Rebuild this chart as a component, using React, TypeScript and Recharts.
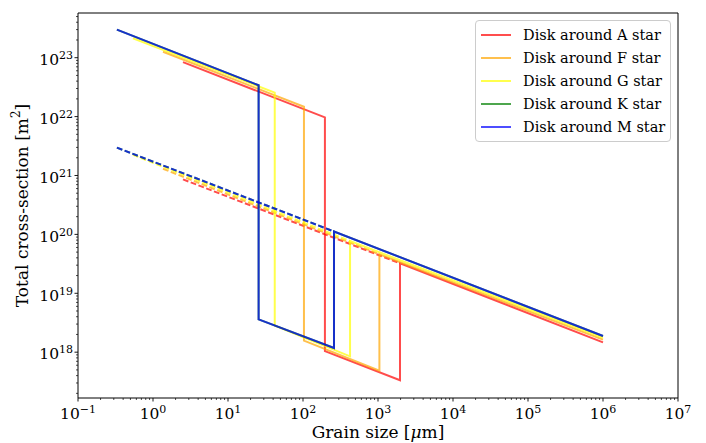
import React from 'react';
import { LineChart, Line, XAxis, YAxis, ReferenceArea, Legend } from 'recharts';

type Pt = [number, number];

// grain size [um], cross-section [m^2]
const solidA: Pt[] = [[2.51, 8.4e22], [196, 9.7e21], [196, 1.04e18], [1965, 3.33e17], [1965, 3.23e19], [1e6, 1.47e18]];
const dashedA: Pt[] = [[2.51, 8.6e20], [1965, 3.23e19]];
const solidF: Pt[] = [[1.36, 1.26e23], [103, 1.47e22], [103, 1.57e18], [1044, 4.85e17], [1044, 4.6e19], [1e6, 1.63e18]];
const dashedF: Pt[] = [[1.36, 1.3e21], [1044, 4.6e19]];
const solidG: Pt[] = [[0.54, 2.14e23], [42, 2.55e22], [42, 2.83e18], [424, 8.5e17], [424, 7.7e19], [1e6, 1.76e18]];
const dashedG: Pt[] = [[0.54, 2.25e21], [424, 7.7e19]];
const solidK: Pt[] = [[0.33, 3.0e23], [25.6, 3.4e22], [25.6, 3.6e18], [259, 1.18e18], [259, 1.12e20], [1e6, 1.88e18]];
const dashedK: Pt[] = [[0.33, 2.97e21], [259, 1.12e20]];
const solidM: Pt[] = [[0.33, 3.0e23], [25.6, 3.4e22], [25.6, 3.6e18], [259, 1.18e18], [259, 1.12e20], [1e6, 1.88e18]];
const dashedM: Pt[] = [[0.33, 2.97e21], [259, 1.12e20]];

const starNames = ['Disk around A star', 'Disk around F star', 'Disk around G star', 'Disk around K star', 'Disk around M star'];
const starColors = ['#ff0000', '#ffa500', '#ffff00', '#008000', '#0000ff'];
const legendColors = ['#ff4d4d', '#ffc04d', '#ffff4d', '#4da64d', '#4d4dff'];

const xDomain: [number, number] = [0.1, 1e7];
const yDomain: [number, number] = [Math.pow(10, 17.222), Math.pow(10, 23.759)];

const xMajorExp = [-1, 0, 1, 2, 3, 4, 5, 6, 7];
const yMajorExp = [18, 19, 20, 21, 22, 23];

const FONT = "'DejaVu Serif', serif";

const toRows = (pts: Pt[]) => pts.map(([x, y]) => ({ x, y }));

const minorTicks = (lo: number, hi: number, min: number, max: number) => {
  const out: number[] = [];
  for (let n = lo; n <= hi; n++) {
    for (let k = 1; k <= 9; k++) {
      const v = Number(`${k}e${n}`);
      if (v >= min * 0.999 && v <= max * 1.001) out.push(v);
    }
  }
  return out;
};

const xTicks = minorTicks(-1, 7, xDomain[0], xDomain[1]);
const yTicks = minorTicks(17, 23, yDomain[0], yDomain[1]);

const expOf = (v: number) => {
  const e = Math.log10(v);
  return Math.abs(e - Math.round(e)) < 1e-6 ? Math.round(e) : null;
};

const fmtExp = (e: number) => (e < 0 ? `\u2212${-e}` : `${e}`);

const txt = { fontFamily: FONT, fill: '#000' };

const XTick = (props: any) => {
  const { x, y, payload } = props;
  const e = expOf(payload.value);
  const major = e !== null && xMajorExp.includes(e);
  return (
    <g>
      <line x1={x} x2={x} y1={y} y2={y + (major ? 3.5 : 2)} stroke="#000" strokeWidth={major ? 0.9 : 0.7} />
      {major && (
        <text x={x} y={y + 21.3} textAnchor="middle" style={{ ...txt, fontSize: 15.5 }}>
          <tspan>10</tspan>
          <tspan dy={-6} style={{ fontSize: 11 }}>{fmtExp(e as number)}</tspan>
        </text>
      )}
    </g>
  );
};

const YTick = (props: any) => {
  const { x, y, payload } = props;
  const e = expOf(payload.value);
  const major = e !== null && yMajorExp.includes(e);
  return (
    <g>
      <line x1={x} x2={x - (major ? 3.5 : 2)} y1={y} y2={y} stroke="#000" strokeWidth={major ? 0.9 : 0.7} />
      {major && (
        <text x={x - 5} y={y + 7.3} textAnchor="end" style={{ ...txt, fontSize: 15.5 }}>
          <tspan>10</tspan>
          <tspan dy={-6} style={{ fontSize: 11 }}>{fmtExp(e as number)}</tspan>
        </text>
      )}
    </g>
  );
};

const LegendBox = () => (
  <div
    style={{
      width: 196,
      border: '1px solid #cccccc',
      borderRadius: 4,
      background: 'rgba(255,255,255,0.8)',
      padding: '2px 0 2px 5px',
      fontFamily: FONT,
      fontSize: 14.5,
      color: '#000',
      boxSizing: 'border-box',
    }}
  >
    {starNames.map((name, i) => (
      <div key={name} style={{ display: 'flex', alignItems: 'center', height: 23.2 }}>
        <div style={{ width: 30, height: 2, background: legendColors[i], marginRight: 12, flexShrink: 0 }} />
        <span style={{ whiteSpace: 'nowrap' }}>{name}</span>
      </div>
    ))}
  </div>
);

const series: { data: Pt[]; color: string; dashed: boolean }[] = [
  { data: solidA, color: starColors[0], dashed: false },
  { data: dashedA, color: starColors[0], dashed: true },
  { data: solidF, color: starColors[1], dashed: false },
  { data: dashedF, color: starColors[1], dashed: true },
  { data: solidG, color: starColors[2], dashed: false },
  { data: dashedG, color: starColors[2], dashed: true },
  { data: solidK, color: starColors[3], dashed: false },
  { data: dashedK, color: starColors[3], dashed: true },
  { data: solidM, color: starColors[4], dashed: false },
  { data: dashedM, color: starColors[4], dashed: true },
];

const App: React.FC = () => (
  <div style={{ position: 'absolute', left: 0, top: 0, width: 706, height: 443, background: '#fff' }}>
    <LineChart width={706} height={443} margin={{ top: 13, right: 28, bottom: 0, left: 0 }}>
      <XAxis
        dataKey="x"
        type="number"
        scale="log"
        domain={xDomain}
        allowDataOverflow
        ticks={xTicks}
        interval={0}
        tick={<XTick />}
        tickLine={false}
        tickSize={0}
        tickMargin={0}
        axisLine={false}
        height={45}
      />
      <YAxis
        type="number"
        scale="log"
        domain={yDomain}
        allowDataOverflow
        ticks={yTicks}
        interval={0}
        tick={<YTick />}
        tickLine={false}
        tickSize={0}
        tickMargin={0}
        axisLine={false}
        width={78}
      />
      {series.map((s, i) => (
        <Line
          key={i}
          data={toRows(s.data)}
          dataKey="y"
          type="linear"
          stroke={s.color}
          strokeOpacity={0.7}
          strokeWidth={2}
          strokeDasharray={s.dashed ? '5.8 2.5' : undefined}
          dot={false}
          activeDot={false}
          legendType="none"
          isAnimationActive={false}
        />
      ))}
      <ReferenceArea
        x1={xDomain[0]}
        x2={xDomain[1]}
        y1={yDomain[0]}
        y2={yDomain[1]}
        fill="none"
        fillOpacity={0}
        stroke="#000"
        strokeWidth={1}
        strokeOpacity={1}
      />
      <Legend
        content={() => <LegendBox />}
        layout="horizontal"
        verticalAlign="middle"
        align="center"
        wrapperStyle={{ left: 475, top: 20, width: 196 }}
      />
      <text x={378} y={438} textAnchor="middle" style={{ ...txt, fontSize: 17 }}>
        Grain size [<tspan style={{ fontStyle: 'italic' }}>μ</tspan>m]
      </text>
      <text
        x={22}
        y={205.5}
        transform="rotate(-90 22 205.5)"
        textAnchor="middle"
        dominantBaseline="central"
        style={{ ...txt, fontSize: 17 }}
      >
        Total cross-section [m<tspan dy={-6} style={{ fontSize: 12 }}>2</tspan>
        <tspan dy={6}>]</tspan>
      </text>
    </LineChart>
  </div>
);

export default App;
